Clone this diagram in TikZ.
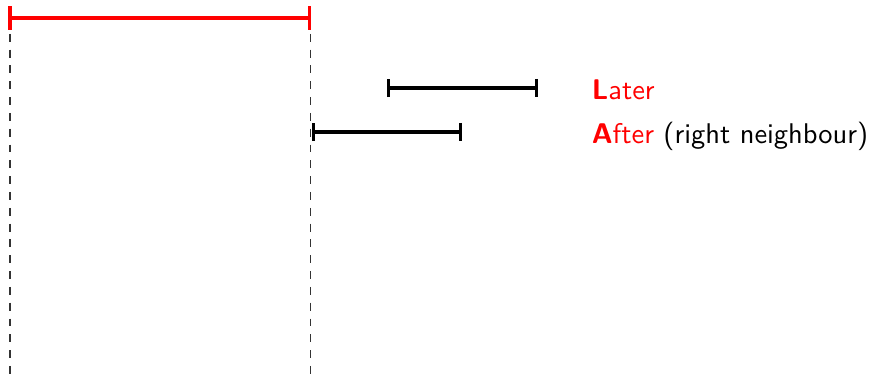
\documentclass[tikz,border=0pt]{standalone}
\usetikzlibrary{arrows.meta}
\begin{document}
\begin{tikzpicture}[
  font=\sffamily\fontsize{10.8}{13}\selectfont,
  interval/.style={line width=1.2pt, {Bar[width=7pt]}-{Bar[width=7pt]}},
  refinterval/.style={line width=1.2pt, red, {Bar[width=9pt]}-{Bar[width=9pt]}},
  guide/.style={dashed, line width=0.4pt, black!80},
  lbl/.style={anchor=base west, inner sep=0pt}
]
  % fixed page frame
  \useasboundingbox (-0.133,0.24) rectangle (11.48,-4.8);

  % reference interval and its boundaries
  \coordinate (r0) at (-0.02,0);
  \coordinate (r1) at (4.02,0);
  \coordinate (g0) at (0,0);
  \coordinate (g1) at (4.013,0);
  \coordinate (g0b) at (0,-4.8);
  \coordinate (g1b) at (4.013,-4.8);
  \draw[guide] (g0) -- (g0b);
  \draw[guide] (g1) -- (g1b);
  \draw[refinterval] (r0) -- (r1);

  % Later
  \coordinate (l0) at (5.03,-0.933);
  \coordinate (l1) at (7.04,-0.933);
  \draw[interval] (l0) -- (l1);
  \node[lbl] (tl) at (7.75,-1.08) {\textcolor{red}{\textbf{L}ater}};

  % After
  \coordinate (a0) at (4.03,-1.52);
  \coordinate (a1) at (6.03,-1.52);
  \draw[interval] (a0) -- (a1);
  \node[lbl] (ta) at (7.75,-1.667) {\textcolor{red}{\textbf{A}fter} (right neighbour)};
\end{tikzpicture}
\end{document}
